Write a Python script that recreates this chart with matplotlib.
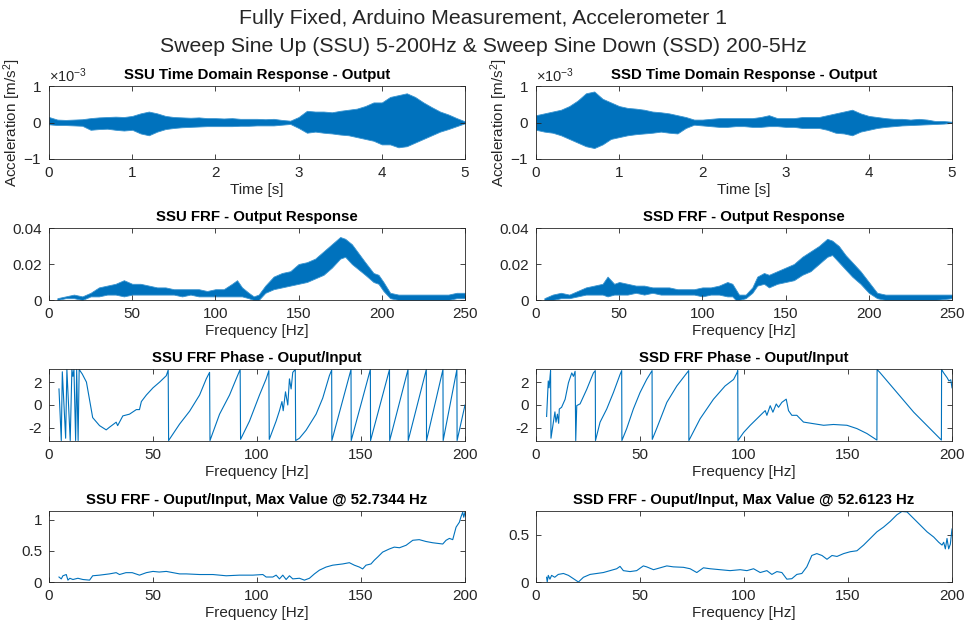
import numpy as np
import matplotlib
matplotlib.use("Agg")
import matplotlib.pyplot as plt
from matplotlib.ticker import ScalarFormatter

plt.rcParams['font.family'] = ['Liberation Sans', 'DejaVu Sans']
plt.rcParams['axes.unicode_minus'] = False
plt.rcParams['mathtext.fontset'] = 'custom'
plt.rcParams['mathtext.rm'] = 'Liberation Sans'
plt.rcParams['mathtext.it'] = 'Liberation Sans'

BLUE = '#0072BD'
GRAY = '#262626'

# ---------------- data ----------------
# Time domain envelopes (m/s^2, x1e-3)
t = [round(0.1 * i, 1) for i in range(51)]
ssu_t_hi = [0.15, 0.08, 0.07, 0.08, 0.09, 0.12, 0.14, 0.15, 0.16, 0.15, 0.18, 0.25, 0.30, 0.25, 0.18,
            0.15, 0.14, 0.13, 0.14, 0.12, 0.12, 0.11, 0.12, 0.10, 0.10, 0.10, 0.09, 0.10, 0.07, 0.05,
            0.15, 0.32, 0.30, 0.30, 0.28, 0.32, 0.35, 0.38, 0.45, 0.55, 0.55, 0.70, 0.75, 0.80, 0.70,
            0.55, 0.42, 0.30, 0.22, 0.12, 0.03]
ssu_t_lo = [-0.05, -0.07, -0.07, -0.08, -0.09, -0.20, -0.18, -0.17, -0.20, -0.22, -0.20, -0.30, -0.35, -0.25, -0.18,
            -0.15, -0.13, -0.12, -0.11, -0.10, -0.10, -0.10, -0.10, -0.09, -0.09, -0.08, -0.08, -0.08, -0.06, -0.04,
            -0.15, -0.28, -0.25, -0.28, -0.30, -0.33, -0.35, -0.40, -0.45, -0.50, -0.60, -0.60, -0.68, -0.65, -0.55,
            -0.45, -0.35, -0.25, -0.18, -0.10, -0.02]
ssd_t_hi = [0.20, 0.25, 0.30, 0.35, 0.45, 0.60, 0.80, 0.85, 0.65, 0.55, 0.45, 0.40, 0.38, 0.35, 0.30,
            0.28, 0.25, 0.20, 0.15, 0.08, 0.08, 0.10, 0.12, 0.12, 0.12, 0.12, 0.12, 0.15, 0.20, 0.12,
            0.12, 0.12, 0.15, 0.15, 0.15, 0.20, 0.25, 0.30, 0.35, 0.25, 0.18, 0.15, 0.12, 0.10, 0.10,
            0.08, 0.10, 0.08, 0.04, 0.04, 0.02]
ssd_t_lo = [-0.20, -0.25, -0.28, -0.35, -0.45, -0.55, -0.65, -0.70, -0.60, -0.45, -0.40, -0.35, -0.32, -0.30, -0.28,
            -0.25, -0.28, -0.30, -0.15, -0.06, -0.08, -0.10, -0.12, -0.12, -0.10, -0.10, -0.12, -0.12, -0.10, -0.10,
            -0.12, -0.12, -0.15, -0.15, -0.15, -0.20, -0.28, -0.30, -0.35, -0.25, -0.20, -0.15, -0.12, -0.10, -0.08,
            -0.07, -0.06, -0.05, -0.04, -0.03, -0.01]

# FRF output response envelopes
ssu_f = [5, 10, 15, 20, 25, 30, 35, 40, 45, 50, 55, 60, 65, 70, 75, 80, 85, 90, 95, 100, 105, 110, 113, 116,
         120, 123, 126, 130, 135, 140, 145, 150, 155, 160, 165, 170, 175, 178, 182, 186, 190, 195, 198, 201,
         205, 210, 220, 230, 240, 245, 250]
ssu_r_lo = [0.000, 0.001, 0.001, 0.000, 0.002, 0.002, 0.003, 0.003, 0.002, 0.003, 0.003, 0.003, 0.003, 0.003,
            0.003, 0.002, 0.003, 0.002, 0.002, 0.002, 0.002, 0.002, 0.002, 0.002, 0.001, 0.000, 0.000, 0.004,
            0.006, 0.007, 0.008, 0.009, 0.010, 0.012, 0.014, 0.018, 0.023, 0.024, 0.020, 0.017, 0.014, 0.010,
            0.009, 0.005, 0.001, 0.000, 0.000, 0.000, 0.000, 0.001, 0.001]
ssu_r_hi = [0.001, 0.002, 0.003, 0.002, 0.004, 0.007, 0.008, 0.009, 0.011, 0.009, 0.009, 0.008, 0.007, 0.007,
            0.006, 0.006, 0.006, 0.006, 0.005, 0.006, 0.006, 0.009, 0.011, 0.007, 0.004, 0.002, 0.003, 0.008,
            0.013, 0.015, 0.016, 0.020, 0.021, 0.023, 0.027, 0.031, 0.035, 0.034, 0.031, 0.026, 0.021, 0.015,
            0.014, 0.010, 0.004, 0.003, 0.003, 0.003, 0.003, 0.004, 0.004]
ssd_f = [5, 10, 15, 20, 25, 30, 35, 40, 43, 47, 50, 55, 60, 65, 70, 75, 80, 85, 90, 95, 100, 105, 110, 115,
         118, 120, 122, 126, 130, 133, 137, 140, 145, 150, 155, 160, 165, 170, 175, 178, 182, 186, 190, 195,
         200, 205, 210, 220, 230, 240, 250]
ssd_r_lo = [0.000, 0.000, 0.001, 0.001, 0.002, 0.003, 0.003, 0.003, 0.002, 0.003, 0.003, 0.003, 0.004, 0.003,
            0.004, 0.003, 0.003, 0.003, 0.003, 0.003, 0.002, 0.003, 0.003, 0.002, 0.002, 0.000, 0.000, 0.001,
            0.004, 0.008, 0.009, 0.007, 0.009, 0.010, 0.011, 0.014, 0.016, 0.020, 0.024, 0.025, 0.021, 0.017,
            0.013, 0.009, 0.004, 0.001, 0.000, 0.000, 0.000, 0.000, 0.001]
ssd_r_hi = [0.001, 0.003, 0.004, 0.003, 0.005, 0.007, 0.008, 0.009, 0.013, 0.009, 0.010, 0.009, 0.008, 0.008,
            0.007, 0.007, 0.007, 0.006, 0.006, 0.006, 0.007, 0.007, 0.008, 0.010, 0.009, 0.006, 0.003, 0.003,
            0.007, 0.013, 0.015, 0.014, 0.016, 0.018, 0.020, 0.024, 0.027, 0.030, 0.034, 0.033, 0.030, 0.025,
            0.021, 0.016, 0.010, 0.004, 0.003, 0.003, 0.003, 0.003, 0.003]

# FRF phase (rad)
ssu_pf = [4.8, 5.9, 6.4, 8.0, 8.6, 10.2, 11.0, 11.5, 12.0, 12.8, 13.3, 14.0, 14.5, 16.0, 18.0, 21.0, 24.3,
          27.5, 29.0, 32.3, 33.0, 35.5, 38.7, 42.0, 43.5, 44.4, 46.8, 50.0, 53.2, 56.4, 57.3,
          57.5, 62.8, 67.6, 72.4, 75.6, 77.2,
          77.4, 82.0, 86.8, 90.0, 91.9,
          92.1, 96.4, 101.2, 104.4, 105.7,
          105.9, 109.2, 110.8, 112.0, 112.6, 113.7, 114.8, 115.6, 116.4, 117.2, 118.4,
          118.6, 120.4, 123.6, 128.4, 131.6, 134.8, 135.9,
          136.0, 145.2, 145.3, 154.5, 154.6, 163.7, 163.8, 172.6, 172.7, 181.4, 181.5, 189.4, 189.5,
          196.1, 196.2, 200.0]
ssu_pv = [1.4, -3.1, 2.9, -2.9, 3.1, -3.1, 3.1, 2.5, 3.1, -3.1, 3.1, -3.1, 3.1, 2.7, 2.0, -1.1, -1.8,
          -2.17, -1.95, -1.5, -1.8, -0.95, -0.8, -0.4, -0.4, 0.3, 0.87, 1.5, 2.0, 2.56, 3.05,
          -3.1, -1.66, -0.54, 0.87, 2.28, 2.85,
          -3.1, -0.8, 0.87, 2.28, 3.1,
          -3.0, -1.4, 0.87, 2.28, 3.0,
          -3.0, -1.4, -0.5, 0.3, -0.5, 1.15, 0.0, 2.28, 1.4, 2.85, 3.1,
          -3.1, -2.9, -2.2, -0.8, 0.6, 2.56, 3.05,
          -3.1, 3.1, -3.1, 3.1, -3.1, 3.1, -3.1, 3.1, -3.1, 3.1, -3.1, 3.1, -3.1,
          3.1, -3.1, 0.0]
ssd_pf = [5.1, 5.9, 6.3, 6.7, 7.0, 7.2, 9.1, 9.6, 10.3, 10.9, 11.2, 12.3, 14.0, 15.6, 17.2, 18.0, 18.8,
          19.1, 19.6, 21.2, 24.4, 27.6, 28.5,
          28.6, 30.8, 34.0, 37.2, 40.4, 41.2,
          41.3, 43.6, 46.8, 50.0, 53.2, 55.8,
          55.9, 58.0, 62.9, 67.7, 73.4,
          73.5, 78.9, 85.3, 90.9, 95.0, 96.6, 97.0,
          97.1, 99.8, 103.0, 106.2, 108.6, 110.2, 111.0, 112.6, 113.9, 115.5, 116.6, 118.2, 120.3, 121.4,
          123.0, 125.4, 128.6, 133.4, 138.3, 143.0, 149.5, 154.3, 159.1, 163.9,
          164.0, 165.5, 181.6, 194.9,
          195.0, 196.0, 197.7, 198.5, 199.4, 200.0]
ssd_pv = [-1.0, 2.1, 1.5, 2.37, 3.0, -2.9, -0.6, -1.5, -0.8, -1.6, -0.35, -0.2, 0.5, 1.94, 2.8, 2.5, 2.94,
          -3.1, -0.05, 0.1, 1.37, 2.8, 3.0,
          -3.1, -1.5, -0.35, 1.08, 2.66, 3.0,
          -3.1, -2.06, -0.35, 1.08, 2.23, 3.0,
          -3.0, -2.06, 0.23, 1.66, 3.0,
          -3.1, -1.2, 0.5, 1.66, 2.23, 2.8, 3.0,
          -3.1, -2.4, -1.77, -1.2, -0.77, -0.49, -0.9, -0.06, -0.63, 0.09, -0.2, 0.23, 0.51, -0.49,
          -0.9, -0.9, -1.49, -1.63, -1.77, -1.7, -1.77, -2.06, -2.49, -3.06,
          3.1, 2.8, -0.63, -3.06,
          3.1, 2.8, 2.37, 2.1, 2.2, 1.5]

# FRF magnitude output/input
ssu_mf = [4.8, 5.9, 6.7, 8.3, 9.1, 10.0, 11.5, 13.9, 16.3, 19.5, 21.0, 24.3, 29.0, 32.3, 33.9, 37.0, 40.0,
          43.5, 46.8, 50.0, 53.0, 56.4, 59.6, 62.8, 66.0, 72.4, 78.8, 85.2, 91.6, 98.0, 102.8, 104.4, 107.6,
          109.2, 110.8, 112.4, 114.0, 115.6, 117.2, 120.4, 122.8, 125.2, 127.6, 130.0, 133.2, 136.4, 141.2,
          144.4, 146.8, 149.2, 150.8, 152.4, 154.8, 156.4, 158.0, 160.4, 163.6, 166.0, 168.5, 171.7, 174.9,
          178.0, 181.3, 184.5, 189.3, 190.9, 192.5, 194.1, 195.7, 197.3, 198.0, 198.9, 199.4, 200.0]
ssu_mv = [0.08, 0.05, 0.10, 0.12, 0.03, 0.06, 0.04, 0.06, 0.04, 0.03, 0.10, 0.11, 0.13, 0.15, 0.12, 0.15, 0.15,
          0.11, 0.15, 0.17, 0.16, 0.17, 0.15, 0.13, 0.13, 0.12, 0.12, 0.10, 0.11, 0.11, 0.12, 0.08, 0.08,
          0.11, 0.05, 0.11, 0.04, 0.10, 0.05, 0.06, 0.03, 0.06, 0.13, 0.19, 0.24, 0.27, 0.29,
          0.31, 0.27, 0.24, 0.21, 0.27, 0.29, 0.35, 0.40, 0.48, 0.53, 0.56, 0.55, 0.59, 0.67,
          0.68, 0.65, 0.63, 0.61, 0.67, 0.70, 0.68, 0.88, 0.96, 1.04, 1.12, 1.04, 1.12]
ssd_mf = [5.1, 5.4, 5.9, 6.7, 7.5, 9.0, 10.7, 13.2, 15.6, 18.0, 20.4, 22.8, 26.0, 29.2, 32.4, 35.6, 38.8, 40.4,
          42.0, 45.2, 48.4, 51.6, 53.2, 56.5, 59.7, 62.9, 66.0, 70.9, 74.1, 77.3, 80.5, 83.7, 88.5, 93.3,
          98.2, 101.4, 104.6, 107.8, 111.0, 113.4, 115.8, 118.2, 120.6, 123.0, 125.4, 127.8, 130.2, 132.6,
          135.0, 137.5, 139.9, 142.3, 144.7, 147.9, 151.1, 154.3, 157.5, 160.7, 163.9, 167.1, 170.3, 173.5,
          175.9, 178.4, 181.6, 184.8, 188.0, 191.2, 193.6, 195.2, 196.0, 196.8, 197.6, 198.4, 199.2, 200.0]
ssd_mv = [0.05, 0.0, 0.07, 0.03, 0.07, 0.05, 0.08, 0.09, 0.07, 0.035, 0.0, 0.05, 0.08, 0.09, 0.10, 0.12, 0.14, 0.165,
          0.12, 0.11, 0.12, 0.17, 0.16, 0.13, 0.15, 0.17, 0.16, 0.155, 0.14, 0.10, 0.15, 0.14, 0.13, 0.12,
          0.13, 0.12, 0.14, 0.10, 0.12, 0.08, 0.11, 0.10, 0.03, 0.035, 0.08, 0.09, 0.16, 0.28,
          0.30, 0.28, 0.24, 0.28, 0.27, 0.30, 0.32, 0.33, 0.39, 0.46, 0.53, 0.58, 0.64, 0.71,
          0.745, 0.74, 0.67, 0.60, 0.53, 0.475, 0.42, 0.39, 0.42, 0.35, 0.46, 0.35, 0.40, 0.56]

# ---------------- figure ----------------
fig = plt.figure(figsize=(9.66, 6.28), dpi=100)

colx = [49 / 966, 536 / 966]
w = 416 / 966
rows = [(1 - 159 / 628, 73 / 628), (1 - 300 / 628, 72 / 628), (1 - 441 / 628, 72 / 628), (1 - 582 / 628, 71 / 628)]

LFS = 11
TFS = 10.8


def style(ax):
    for s in ax.spines.values():
        s.set_color(GRAY)
        s.set_linewidth(0.6)
    ax.tick_params(direction='in', length=3.5, width=0.6, color=GRAY, labelcolor=GRAY,
                   labelsize=LFS, top=True, right=True, pad=5)


def mk(r, c):
    ax = fig.add_axes([colx[c], rows[r][0], w, rows[r][1]])
    style(ax)
    return ax


# Row 1 time domain
for c, (hi, lo, name) in enumerate([(ssu_t_hi, ssu_t_lo, 'SSU'), (ssd_t_hi, ssd_t_lo, 'SSD')]):
    ax = mk(0, c)
    ax.fill_between(t, np.array(lo) * 1e-3, np.array(hi) * 1e-3, color=BLUE, lw=0.6, edgecolor='#3b95d0')
    ax.set_xlim(0, 5)
    ax.set_ylim(-1e-3, 1e-3)
    ax.set_yticks([-1e-3, 0, 1e-3])
    ax.set_xticks([0, 1, 2, 3, 4, 5])
    fmt = ScalarFormatter(useMathText=True)
    fmt.set_powerlimits((0, 0))
    ax.yaxis.set_major_formatter(fmt)
    ax.yaxis.get_offset_text().set_color(GRAY)
    ax.yaxis.get_offset_text().set_fontsize(10.5)
    ax.set_xlabel('Time [s]', fontsize=LFS, color=GRAY, labelpad=2)
    ax.set_ylabel('Acceleration [m/s$^2$]', fontsize=LFS, color=GRAY)
    ax.yaxis.set_label_coords(-0.062, 0.5)
    ax.set_title(f'{name} Time Domain Response - Output', fontsize=TFS, fontweight='bold', pad=5)

# Row 2 output response
for c, (f, lo, hi, name) in enumerate([(ssu_f, ssu_r_lo, ssu_r_hi, 'SSU'), (ssd_f, ssd_r_lo, ssd_r_hi, 'SSD')]):
    ax = mk(1, c)
    ax.fill_between(f, lo, hi, color=BLUE, lw=0.6, edgecolor='#3b95d0')
    ax.set_xlim(0, 250)
    ax.set_ylim(0, 0.04)
    ax.set_yticks([0, 0.02, 0.04])
    ax.set_yticklabels(['0', '0.02', '0.04'])
    ax.set_xticks([0, 50, 100, 150, 200, 250])
    ax.set_xlabel('Frequency [Hz]', fontsize=LFS, color=GRAY, labelpad=2)
    ax.set_title(f'{name} FRF - Output Response', fontsize=TFS, fontweight='bold', pad=5)

# Row 3 phase
for c, (f, v, name) in enumerate([(ssu_pf, ssu_pv, 'SSU'), (ssd_pf, ssd_pv, 'SSD')]):
    ax = mk(2, c)
    ax.plot(f, v, color=BLUE, lw=0.8)
    ax.set_xlim(0, 200)
    ax.set_ylim(-np.pi, np.pi)
    ax.set_yticks([-2, 0, 2])
    ax.set_xticks([0, 50, 100, 150, 200])
    ax.set_xlabel('Frequency [Hz]', fontsize=LFS, color=GRAY, labelpad=2)
    ax.set_title(f'{name} FRF Phase - Ouput/Input', fontsize=TFS, fontweight='bold', pad=5)

# Row 4 magnitude
for c, (f, v, name, peak, ytop, yt) in enumerate([
        (ssu_mf, ssu_mv, 'SSU', '52.7344', 1.14, [0, 0.5, 1]),
        (ssd_mf, ssd_mv, 'SSD', '52.6123', 0.75, [0, 0.5])]):
    ax = mk(3, c)
    ax.plot(f, v, color=BLUE, lw=0.8)
    ax.set_xlim(0, 200)
    ax.set_ylim(0, ytop)
    ax.set_yticks(yt)
    ax.set_yticklabels([('%g' % y) for y in yt])
    ax.set_xticks([0, 50, 100, 150, 200])
    ax.set_xlabel('Frequency [Hz]', fontsize=LFS, color=GRAY, labelpad=2)
    ax.set_title(f'{name} FRF - Ouput/Input, Max Value @ {peak} Hz', fontsize=TFS, fontweight='bold', pad=5)

fig.text(0.5, 1 - 19 / 628, 'Fully Fixed, Arduino Measurement, Accelerometer 1',
         ha='center', va='center', fontsize=15.3, color=GRAY)
fig.text(0.5, 1 - 46 / 628, 'Sweep Sine Up (SSU) 5-200Hz & Sweep Sine Down (SSD) 200-5Hz',
         ha='center', va='center', fontsize=15.3, color=GRAY)

fig.savefig('out.png', dpi=100)
